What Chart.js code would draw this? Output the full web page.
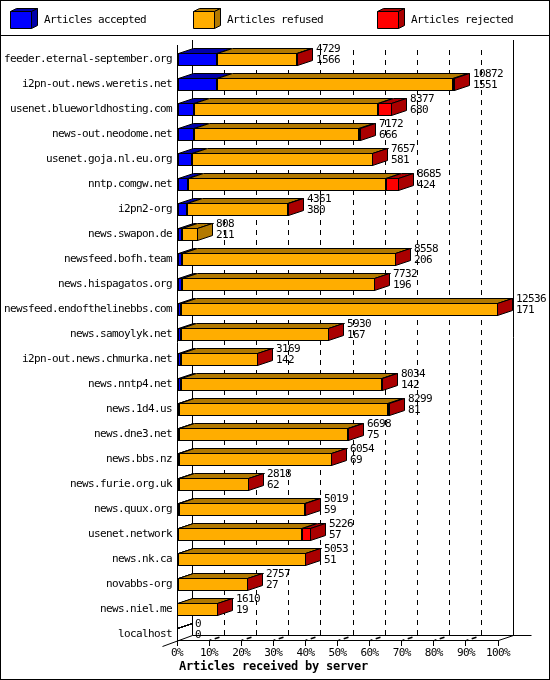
<!DOCTYPE html>
<html>
<head>
<meta charset="utf-8">
<title>Articles received by server</title>
<style>
    html, body { margin: 0; padding: 0; background: #ffffff; }
    canvas { display: block; }
</style>
<script src="https://cdn.jsdelivr.net/npm/chart.js@4"></script>
</head>
<body>
<canvas id="serverChart" width="550" height="680"></canvas>
<script>
// Chart data
const servers = ['feeder.eternal-september.org', 'i2pn-out.news.weretis.net', 'usenet.blueworldhosting.com', 'news-out.neodome.net', 'usenet.goja.nl.eu.org', 'nntp.comgw.net', 'i2pn2-org', 'news.swapon.de', 'newsfeed.bofh.team', 'news.hispagatos.org', 'newsfeed.endofthelinebbs.com', 'news.samoylyk.net', 'i2pn-out.news.chmurka.net', 'news.nntp4.net', 'news.1d4.us', 'news.dne3.net', 'news.bbs.nz', 'news.furie.org.uk', 'news.quux.org', 'usenet.network', 'news.nk.ca', 'novabbs-org', 'news.niel.me', 'localhost'];
const totals = [4729, 10872, 8377, 7172, 7657, 8685, 4361, 808, 8558, 7732, 12536, 5930, 3169, 8034, 8299, 6698, 6054, 2818, 5019, 5226, 5053, 2757, 1610, 0];
const accepted = [1566, 1551, 680, 666, 581, 424, 380, 211, 206, 196, 171, 167, 142, 142, 81, 75, 69, 62, 59, 57, 51, 27, 19, 0];
const refused = [3123, 9211, 7187, 6446, 7061, 7741, 3971, 597, 8337, 7521, 12355, 5758, 3022, 7862, 8148, 6613, 5980, 2751, 4955, 4839, 4997, 2727, 1589, 0];
const rejected = [40, 110, 510, 60, 15, 520, 10, 0, 15, 15, 10, 5, 5, 30, 70, 10, 5, 5, 5, 330, 5, 3, 2, 0];
const tickLabels = ['0%', '10%', '20%', '30%', '40%', '50%', '60%', '70%', '80%', '90%', '100%'];
const xTitle = 'Articles received by server';

const maxTotal = Math.max(...totals);

// depth of the fake 3D view
const depthX = 15;
const depthY = 5;

const textFont = '11px "DejaVu Sans Mono", monospace';
const titleFont = 'bold 12px "DejaVu Sans Mono", monospace';

const seriesColors = [
    { front: '#0000ff', dark: '#0000aa' },
    { front: '#ffad00', dark: '#b27900' },
    { front: '#ff0000', dark: '#aa0000' }
];

function polygon(ctx, points, fill) {
    ctx.beginPath();
    points.forEach((p, i) => (i ? ctx.lineTo(p[0], p[1]) : ctx.moveTo(p[0], p[1])));
    ctx.closePath();
    if (fill) {
        ctx.fillStyle = fill;
        ctx.fill();
    }
    ctx.stroke();
}

function line(ctx, x1, y1, x2, y2) {
    ctx.beginPath();
    ctx.moveTo(x1, y1);
    ctx.lineTo(x2, y2);
    ctx.stroke();
}

function drawWalls(chart) {
    const ctx = chart.ctx;
    const xScale = chart.scales.x;
    const area = chart.chartArea;
    const backBottom = area.bottom - depthY + 0.5;
    const backTop = area.top;

    ctx.save();
    ctx.strokeStyle = '#000000';
    ctx.lineWidth = 1;

    // dashed lines on the back wall and the floor
    xScale.ticks.forEach((tick, i) => {
        const px = Math.round(xScale.getPixelForValue(tick.value)) + 0.5;
        if (i > 0 && i < xScale.ticks.length - 1) {
            ctx.lineWidth = 1;
            ctx.setLineDash([5, 5]);
            line(ctx, px + depthX, backTop + 10, px + depthX, backBottom);
            ctx.lineWidth = 1.6;
            ctx.setLineDash([2, 3.5, 5, 100]);
            line(ctx, px, area.bottom + 0.5, px + depthX, backBottom);
        }
    });
    ctx.setLineDash([]);
    ctx.lineWidth = 1;

    // solid walls
    const left = area.left + 0.5;
    const right = area.right + 0.5;
    line(ctx, left, area.top + 5, left, area.bottom + 0.5);
    line(ctx, left + depthX, backTop, left + depthX, backBottom);
    line(ctx, right + depthX, backTop, right + depthX, backBottom);
    line(ctx, left + depthX, backBottom, right + depthX + 18, backBottom);
    line(ctx, left - depthX, area.bottom + 6.5, left + depthX, backBottom);
    line(ctx, right, area.bottom + 0.5, right + depthX, backBottom);
    ctx.restore();
}

function drawBarFaces(chart) {
    const ctx = chart.ctx;
    const metas = chart.data.datasets.map((d, i) => chart.getDatasetMeta(i));

    ctx.save();
    ctx.strokeStyle = '#000000';
    ctx.lineWidth = 1;
    servers.forEach((name, row) => {
        let lastSeries = 0;
        metas.forEach((meta, s) => {
            const bar = meta.data[row];
            const top = bar.y - bar.height / 2 + 0.5;
            const x0 = bar.base + 0.5;
            const x1 = Math.max(bar.x - 0.5, x0);
            polygon(ctx, [[x0, top], [x0 + depthX, top - depthY], [x1 + depthX, top - depthY], [x1, top]], seriesColors[s].dark);
            if (chart.data.datasets[s].data[row] > 0) {
                lastSeries = s;
            }
        });
        if (totals[row] > 0) {
            const bar = metas[lastSeries].data[row];
            const top = bar.y - bar.height / 2 + 0.5;
            const bottom = bar.y + bar.height / 2 - 0.5;
            const x1 = bar.x - 0.5;
            polygon(ctx, [[x1, top], [x1 + depthX, top - depthY], [x1 + depthX, bottom - depthY], [x1, bottom]], seriesColors[lastSeries].dark);
        }
    });
    ctx.restore();
}

function drawValueLabels(chart) {
    const ctx = chart.ctx;
    const meta = chart.getDatasetMeta(2);

    ctx.save();
    ctx.font = textFont;
    ctx.fillStyle = '#000000';
    ctx.textAlign = 'left';
    ctx.textBaseline = 'middle';
    servers.forEach((name, row) => {
        const bar = meta.data[row];
        const top = bar.y - bar.height / 2;
        ctx.fillText(String(totals[row]), bar.x + depthX + 3, top - 4);
        ctx.fillText(String(accepted[row]), bar.x + depthX + 3, top + 7);
    });
    ctx.restore();
}

function drawLegend(chart) {
    const ctx = chart.ctx;

    ctx.save();
    ctx.strokeStyle = '#000000';
    ctx.lineWidth = 1;
    ctx.font = textFont;
    ctx.textBaseline = 'middle';
    ctx.textAlign = 'left';
    chart.data.datasets.forEach((dataset, i) => {
        const x = Math.round(10 + 183.3 * i) + 0.5;
        const colors = seriesColors[i];
        polygon(ctx, [[x, 11.5], [x + 6, 8.5], [x + 27, 8.5], [x + 21, 11.5]], colors.dark);
        polygon(ctx, [[x + 21, 11.5], [x + 27, 8.5], [x + 27, 25.5], [x + 21, 28.5]], colors.dark);
        polygon(ctx, [[x, 11.5], [x + 21, 11.5], [x + 21, 28.5], [x, 28.5]], colors.front);
        ctx.fillStyle = '#000000';
        ctx.fillText(dataset.label, Math.floor(x) + 34, 20);
    });
    ctx.restore();
}

const threeDPlugin = {
    id: 'threeD',
    afterDatasetsUpdate(chart) {
        // keep bar edges on whole pixels, the picture has no blur
        chart.data.datasets.forEach((d, i) => {
            chart.getDatasetMeta(i).data.forEach((bar) => {
                bar.x = Math.round(bar.x);
                bar.base = Math.round(bar.base);
            });
        });
    },
    beforeDraw(chart) {
        chart.ctx.letterSpacing = '-0.62px';
    },
    beforeDatasetsDraw(chart) {
        const ctx = chart.ctx;
        drawWalls(chart);
        // bars sit at the bottom of their row, not in the middle
        ctx.save();
        ctx.translate(0, 7);
        drawBarFaces(chart);
    },
    afterDatasetsDraw(chart) {
        const ctx = chart.ctx;
        drawValueLabels(chart);
        ctx.restore();
    },
    afterDraw(chart) {
        const ctx = chart.ctx;
        ctx.save();
        ctx.strokeStyle = '#000000';
        ctx.lineWidth = 1;
        ctx.strokeRect(0.5, 0.5, 549, 679);
        line(ctx, 0, 35.5, 550, 35.5);
        ctx.restore();

        drawLegend(chart);

        ctx.save();
        ctx.font = titleFont;
        ctx.letterSpacing = '-0.22px';
        ctx.fillStyle = '#000000';
        ctx.textBaseline = 'middle';
        ctx.fillText(xTitle, 179, 667);
        ctx.restore();
    }
};

function createServerChart() {
    const ctx = document.getElementById('serverChart');

    new Chart(ctx.getContext('2d'), {
        type: 'bar',
        data: {
            labels: servers,
            datasets: [
                { label: 'Articles accepted', data: accepted, backgroundColor: seriesColors[0].front },
                { label: 'Articles refused', data: refused, backgroundColor: seriesColors[1].front },
                { label: 'Articles rejected', data: rejected, backgroundColor: seriesColors[2].front }
            ]
        },
        options: {
            indexAxis: 'y',
            responsive: false,
            animation: false,
            devicePixelRatio: 1,
            layout: {
                padding: { top: 40, right: 52, left: 0, bottom: 0 }
            },
            datasets: {
                bar: {
                    barThickness: 13,
                    borderColor: '#000000',
                    borderWidth: 1,
                    borderSkipped: false,
                    inflateAmount: 0,
                    clip: false
                }
            },
            plugins: {
                legend: { display: false },
                tooltip: { enabled: false },
                title: { display: false }
            },
            scales: {
                x: {
                    stacked: true,
                    min: 0,
                    max: maxTotal,
                    afterFit(scale) {
                        scale.height = 40;
                    },
                    afterBuildTicks(scale) {
                        scale.ticks = tickLabels.map((label) => ({ value: parseInt(label, 10) / 100 * maxTotal }));
                    },
                    grid: {
                        drawOnChartArea: false,
                        drawTicks: true,
                        tickLength: 6,
                        tickColor: '#000000'
                    },
                    border: { color: '#000000' },
                    ticks: {
                        color: '#000000',
                        autoSkip: false,
                        maxRotation: 0,
                        padding: 1,
                        font: { size: 11, family: '"DejaVu Sans Mono", monospace' },
                        callback: function (value, index) {
                            return tickLabels[index];
                        }
                    }
                },
                y: {
                    stacked: true,
                    afterFit(scale) {
                        scale.width = 177;
                    },
                    grid: { display: false, drawTicks: false, tickLength: 0 },
                    border: { display: false },
                    ticks: {
                        color: '#000000',
                        autoSkip: false,
                        padding: 5,
                        labelOffset: 6.5,
                        font: { size: 11, family: '"DejaVu Sans Mono", monospace' }
                    }
                }
            }
        },
        plugins: [threeDPlugin]
    });
}

createServerChart();
</script>
</body>
</html>
